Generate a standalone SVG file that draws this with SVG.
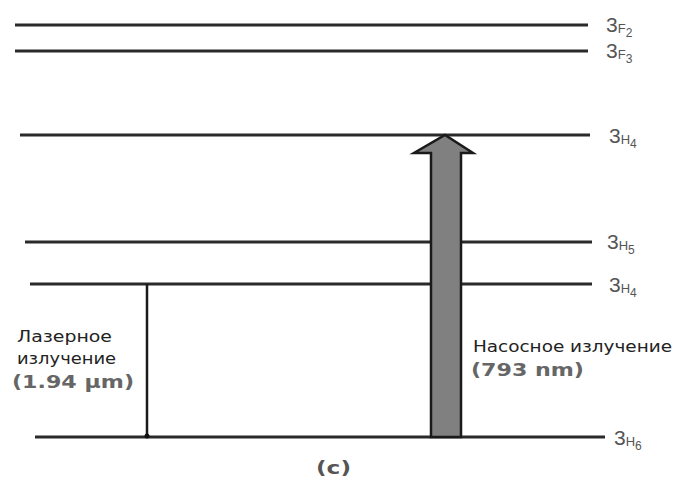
<svg xmlns="http://www.w3.org/2000/svg" width="676" height="482" viewBox="0 0 676 482">
<style>
.lvl{stroke:#2a2a2a;stroke-width:3;fill:none}
.lab{font-family:"Liberation Sans",Arial,sans-serif;fill:#555;font-size:21px}
.lab .s{font-size:13px}
.lab .ss{font-size:12px}
.ru{font-family:"DejaVu Sans",sans-serif;font-size:16px;fill:#222}
.en{font-family:"DejaVu Sans",sans-serif;font-size:17px;font-weight:bold;fill:#666}
</style>
<rect width="676" height="482" fill="#fff"/>
<g id="level-3F2"><line class="lvl" x1="15" y1="25" x2="588" y2="25"/><text class="lab" x="606" y="32">3<tspan class="s" dy="1">F</tspan><tspan class="ss" dy="4">2</tspan></text></g>
<g id="level-3F3"><line class="lvl" x1="15" y1="51" x2="588" y2="51"/><text class="lab" x="606" y="58">3<tspan class="s" dy="1">F</tspan><tspan class="ss" dy="4">3</tspan></text></g>
<g id="level-3H4-upper"><line class="lvl" x1="20" y1="135" x2="590" y2="135"/><text class="lab" x="609" y="143">3<tspan class="s" dy="1">H</tspan><tspan class="ss" dy="4">4</tspan></text></g>
<g id="level-3H5"><line class="lvl" x1="25" y1="242" x2="592" y2="242"/><text class="lab" x="607" y="249">3<tspan class="s" dy="1">H</tspan><tspan class="ss" dy="4">5</tspan></text></g>
<g id="level-3H4"><line class="lvl" x1="30" y1="284" x2="592" y2="284"/><text class="lab" x="609" y="292">3<tspan class="s" dy="1">H</tspan><tspan class="ss" dy="4">4</tspan></text></g>
<g id="level-3H6"><line class="lvl" x1="35" y1="437" x2="605" y2="437"/><text class="lab" x="614" y="445">3<tspan class="s" dy="1">H</tspan><tspan class="ss" dy="4">6</tspan></text></g>
<g id="connectors">
<line x1="147" y1="284" x2="147" y2="437" stroke="#1a1a1a" stroke-width="2.5"/>
<circle cx="147" cy="436" r="2.5" fill="#111"/>
<path d="M431,437 L431,153 L414,153 L445,135 L473,153 L461,153 L461,437 Z" fill="#808080" stroke="#1a1a1a" stroke-width="2.5" stroke-linejoin="miter"/>
</g>
<g id="laser-label">
<text class="ru" x="17" y="342" textLength="95" lengthAdjust="spacingAndGlyphs">Лазерное</text>
<text class="ru" x="17" y="364" textLength="99" lengthAdjust="spacingAndGlyphs">излучение</text>
<text class="en" x="12" y="388" textLength="122" lengthAdjust="spacingAndGlyphs">(1.94 μm)</text>
</g>
<g id="pump-label">
<text class="ru" x="473" y="352" textLength="199" lengthAdjust="spacingAndGlyphs">Насосное излучение</text>
<text class="en" x="471" y="376" textLength="113" lengthAdjust="spacingAndGlyphs">(793 nm)</text>
</g>
<text x="316" y="474" font-family="DejaVu Sans,sans-serif" font-size="18" font-weight="bold" fill="#555" textLength="35" lengthAdjust="spacingAndGlyphs">(c)</text>
</svg>
